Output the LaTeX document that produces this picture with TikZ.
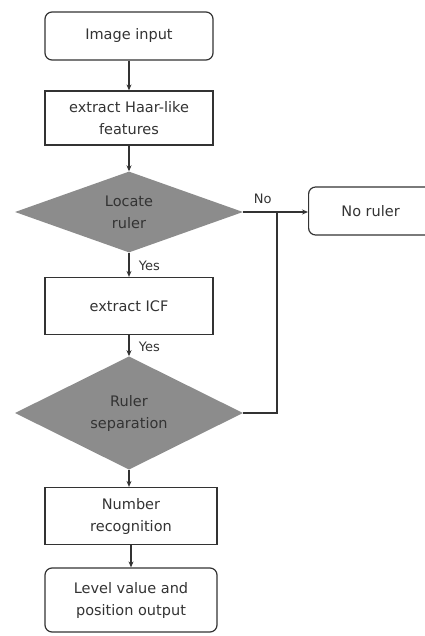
\documentclass[tikz,border=0pt]{standalone}
\usepackage{fontspec}
\setmainfont{DejaVu Sans}
\usetikzlibrary{shapes.geometric,arrows.meta}
\definecolor{ink}{HTML}{333333}
\definecolor{dia}{HTML}{8C8C8C}
\tikzset{
  proc/.style={draw=ink, line width=1.2pt, rectangle, minimum width=168pt, minimum height=#1, inner sep=0pt, align=center, text=ink, font=\fontsize{14.5}{22}\selectfont},
  proc/.default=54pt,
  term/.style={proc=#1, rounded corners=7pt},
  term/.default=48pt,
  decide/.style={draw=none, fill=dia, diamond, minimum width=228pt, minimum height=#1, inner sep=0pt, align=center, text=ink, font=\fontsize{14.5}{22}\selectfont},
  decide/.default=77pt,
  conn/.style={draw=ink, line width=1.2pt, -{Stealth[length=6pt,width=5pt]}},
  plainconn/.style={draw=ink, line width=1.2pt},
  lab/.style={text=ink, font=\fontsize{13}{15}\selectfont},
}
\begin{document}
\begin{tikzpicture}[x=1pt,y=-1pt]
\useasboundingbox (0,0) rectangle (424,636);
\node[term] (in) at (129,36) {Image input};
\node[proc] (haar) at (129,118) {extract Haar-like\\features};
\node[decide] (loc) at (129,212) {Locate\\ruler};
\node[proc=57pt] (icf) at (129,306) {extract ICF};
\node[decide=90pt] (sep) at (129,413) {Ruler\\separation};
\node[proc=57pt, minimum width=172pt] (num) at (131,516) {Number\\recognition};
\node[term=64pt, minimum width=172pt] (out) at (131,600) {Level value and\\position output};
\node[term, minimum width=124pt, anchor=west] (nr) at (308,211) {No ruler};
\coordinate (j) at (277,212);

\draw[conn] (in.south) -- (haar.north);
\draw[conn] (haar.south) -- (loc.north);
\draw[conn] (loc.south) -- node[lab, right=6pt, pos=0.55] {Yes} (icf.north);
\draw[conn] (icf.south) -- node[lab, right=6pt, pos=0.55] {Yes} (sep.north);
\draw[conn] (sep.south) -- (sep.south |- num.north);
\draw[conn] (num.south) -- (out.north);
\draw[conn] (loc.east) -- node[lab, above=4pt, pos=0.3] {No} (nr.west |- loc.east);
\draw[plainconn] (sep.east) -| (j);
\end{tikzpicture}
\end{document}
